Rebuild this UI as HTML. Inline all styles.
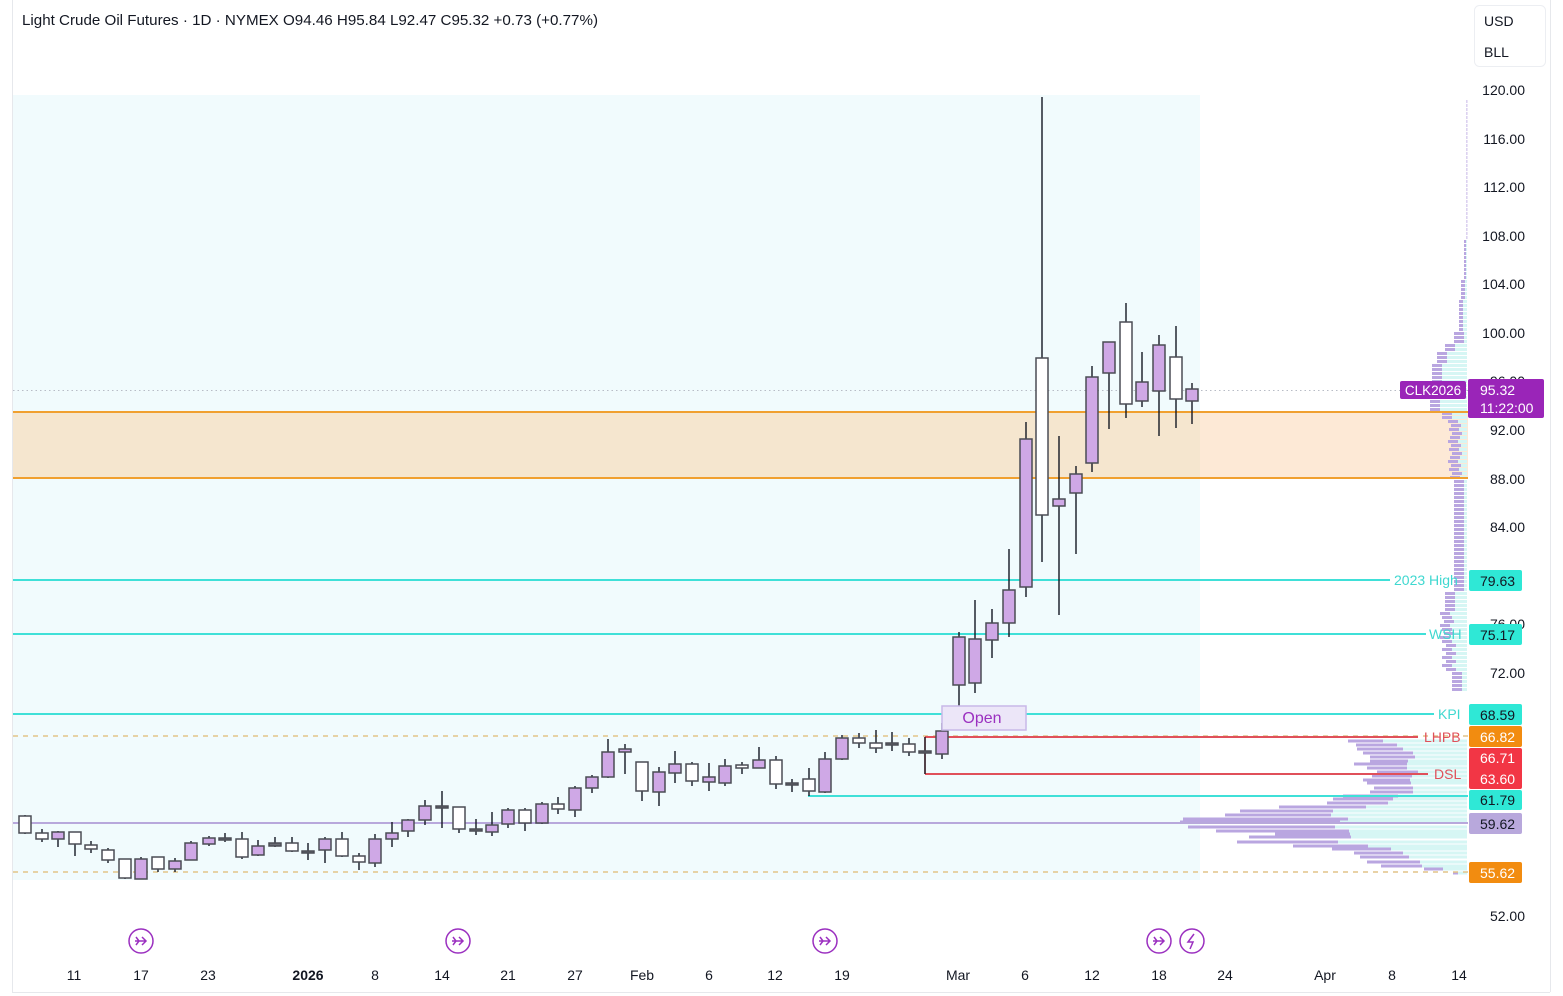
<!DOCTYPE html>
<html><head><meta charset="utf-8"><style>
html,body{margin:0;padding:0;background:#fff;width:1563px;height:996px;overflow:hidden}
svg{display:block;font-family:"Liberation Sans",sans-serif}
</style></head><body>
<svg id="s" width="1563" height="996" viewBox="0 0 1563 996" xmlns="http://www.w3.org/2000/svg">
<rect x="0" y="0" width="1563" height="996" fill="#fff"/>
<line x1="12.5" y1="0" x2="12.5" y2="992" stroke="#e6e8ec"/>
<line x1="12" y1="992.5" x2="1550" y2="992.5" stroke="#e6e8ec"/>
<line x1="1550.5" y1="0" x2="1550.5" y2="992" stroke="#e6e8ec"/>
<rect x="13" y="95" width="1187" height="785" fill="#f1fbfd"/>
<rect x="13" y="412" width="1187" height="66" fill="#f5e6cf"/>
<rect x="1200" y="412" width="268" height="66" fill="#fde9d6"/>
<g id="prof"></g>
<line x1="13" y1="390.5" x2="1468" y2="390.5" stroke="#b8bcc6" stroke-dasharray="1.5,3"/>
<line x1="13" y1="412" x2="1468" y2="412" stroke="#f0a030" stroke-width="2"/>
<line x1="13" y1="478" x2="1468" y2="478" stroke="#f0a030" stroke-width="2"/>
<line x1="13" y1="580" x2="1390" y2="580" stroke="#3fe0d8" stroke-width="2"/>
<line x1="13" y1="634" x2="1426" y2="634" stroke="#3fe0d8" stroke-width="2"/>
<line x1="13" y1="714" x2="1434" y2="714" stroke="#3fe0d8" stroke-width="2"/>
<line x1="808" y1="796" x2="1468" y2="796" stroke="#3fe0d8" stroke-width="2"/>
<line x1="13" y1="823" x2="1468" y2="823" stroke="#b8a8dc" stroke-width="2"/>
<line x1="13" y1="736" x2="1468" y2="736" stroke="#e2c488" stroke-width="1.5" stroke-dasharray="5,5"/>
<line x1="13" y1="872" x2="1468" y2="872" stroke="#e2c488" stroke-width="1.5" stroke-dasharray="5,5"/>
<line x1="925" y1="737" x2="1418" y2="737" stroke="#e0505a" stroke-width="2"/>
<line x1="925" y1="774" x2="1428" y2="774" stroke="#e0505a" stroke-width="2"/>
<line x1="925" y1="737" x2="925" y2="774" stroke="#e0505a" stroke-width="1.5"/>
<g font-size="14" fill="#3fd8d0">
<text x="1394" y="585">2023 High</text><text x="1429" y="639">WSH</text><text x="1438" y="719">KPI</text>
</g>
<g font-size="14" fill="#e0505a"><text x="1424" y="742">LHPB</text><text x="1434" y="779">DSL</text></g>
<g id="c"></g>
<rect x="942" y="706" width="84" height="24" fill="#ece6f8" stroke="#c8b8e8" stroke-width="1.5"/>
<text x="982" y="723" font-size="16" fill="#9b30c0" text-anchor="middle">Open</text>
<g font-size="14" fill="#131722" text-anchor="end">
<text x="1525" y="95">120.00</text><text x="1525" y="144">116.00</text><text x="1525" y="192">112.00</text>
<text x="1525" y="241">108.00</text><text x="1525" y="289">104.00</text><text x="1525" y="338">100.00</text>
<text x="1525" y="386">96.00</text><text x="1525" y="435">92.00</text><text x="1525" y="484">88.00</text>
<text x="1525" y="532">84.00</text><text x="1525" y="629">76.00</text><text x="1525" y="678">72.00</text>
<text x="1525" y="921">52.00</text>
</g>
<rect x="1400" y="381" width="66" height="18" rx="2" fill="#9a25b8"/>
<text x="1433" y="395" font-size="13.5" fill="#fff" text-anchor="middle">CLK2026</text>
<rect x="1468" y="379" width="76" height="39" rx="2" fill="#9a25b8"/>
<text x="1480" y="395" font-size="14" fill="#fff">95.32</text>
<text x="1480" y="413" font-size="14" fill="#fff">11:22:00</text>
<g font-size="14" text-anchor="start">
<rect x="1469" y="570" width="53" height="21" rx="2" fill="#2fe8d6"/><text x="1480" y="586" fill="#131722">79.63</text>
<rect x="1469" y="624" width="53" height="21" rx="2" fill="#2fe8d6"/><text x="1480" y="640" fill="#131722">75.17</text>
<rect x="1469" y="704" width="53" height="21" rx="2" fill="#2fe8d6"/><text x="1480" y="720" fill="#131722">68.59</text>
<rect x="1469" y="726" width="53" height="21" rx="2" fill="#f28c10"/><text x="1480" y="742" fill="#fff">66.82</text>
<rect x="1469" y="748" width="53" height="41" rx="2" fill="#f23645"/><text x="1480" y="763" fill="#fff">66.71</text><text x="1480" y="784" fill="#fff">63.60</text>
<rect x="1469" y="790" width="53" height="20" rx="2" fill="#2fe8d6"/><text x="1480" y="805" fill="#131722">61.79</text>
<rect x="1469" y="813" width="53" height="21" rx="2" fill="#b8a8dc"/><text x="1480" y="829" fill="#131722">59.62</text>
<rect x="1469" y="862" width="53" height="21" rx="2" fill="#f28c10"/><text x="1480" y="878" fill="#fff">55.62</text>
</g>
<rect x="1474.5" y="5.5" width="71" height="61" rx="5" fill="#fff" stroke="#eceef2"/>
<text x="1484" y="26" font-size="14" fill="#131722">USD</text>
<text x="1484" y="57" font-size="14" fill="#131722">BLL</text>
<text x="22" y="25" font-size="15" fill="#131722" textLength="576" lengthAdjust="spacingAndGlyphs">Light Crude Oil Futures · 1D · NYMEX  O94.46  H95.84  L92.47  C95.32  +0.73 (+0.77%)</text>
<g font-size="14" fill="#131722" text-anchor="middle">
<text x="74" y="980">11</text><text x="141" y="980">17</text><text x="208" y="980">23</text>
<text x="308" y="980" font-weight="bold">2026</text><text x="375" y="980">8</text><text x="442" y="980">14</text>
<text x="508" y="980">21</text><text x="575" y="980">27</text><text x="642" y="980">Feb</text>
<text x="709" y="980">6</text><text x="775" y="980">12</text><text x="842" y="980">19</text>
<text x="958" y="980">Mar</text><text x="1025" y="980">6</text><text x="1092" y="980">12</text>
<text x="1159" y="980">18</text><text x="1225" y="980">24</text><text x="1325" y="980">Apr</text>
<text x="1392" y="980">8</text><text x="1459" y="980">14</text>
</g>
<g id="ev" fill="#fff" stroke="#9b30c0" stroke-width="1.5"></g>
</svg>
<script>
var NS="http://www.w3.org/2000/svg";
function el(p,t,a){var e=document.createElementNS(NS,t);for(var k in a)e.setAttribute(k,a[k]);p.appendChild(e);return e;}
var C=[[25,816,833,815,834,0],[42,833,839,829,842,0],[58,832,839,831,847,1],[75,832,844,832,856,0],[91,845,849,841,853,0],[108,850,860,848,863,0],[125,859,878,859,879,0],[141,859,879,857,879,1],[158,857,869,857,872,0],[175,861,869,858,872,1],[191,843,860,841,860,1],[209,838,844,836,846,1],[225,838,839,833,842,2],[242,839,857,832,859,0],[258,846,855,840,856,1],[275,843,846,837,847,2],[292,843,851,837,852,0],[308,851,852,843,860,2],[325,839,850,837,863,1],[342,839,856,832,857,0],[359,856,862,853,870,0],[375,839,863,834,867,1],[392,833,839,822,847,1],[408,820,831,819,837,1],[425,806,820,800,825,1],[442,806,807,791,828,2],[459,807,829,807,833,0],[476,829,830,819,835,2],[492,825,832,812,836,1],[508,810,824,808,828,1],[525,810,823,808,831,0],[542,804,823,802,824,1],[558,804,809,797,814,0],[575,788,810,786,817,1],[592,777,788,775,793,1],[608,752,777,739,778,1],[625,749,752,744,774,1],[642,762,791,762,801,0],[659,772,792,767,806,1],[675,764,773,751,783,1],[692,764,781,762,786,0],[709,777,782,763,791,1],[725,766,783,759,786,1],[742,765,768,762,774,0],[759,760,768,747,768,1],[776,760,784,756,789,0],[792,783,785,779,792,2],[809,779,791,768,796,0],[825,759,792,752,793,1],[842,738,759,735,760,1],[859,738,743,733,748,0],[876,743,748,730,753,0],[892,743,745,732,751,2],[909,744,752,738,756,0],[925,751,753,737,774,2],[942,731,754,723,759,1],[959,637,685,632,707,1],[975,639,683,600,693,1],[992,623,640,609,658,1],[1009,590,623,549,637,1],[1026,439,587,422,597,1],[1042,358,515,97,562,0],[1059,499,506,436,615,1],[1076,474,493,466,554,1],[1092,377,463,366,472,1],[1109,342,373,342,429,1],[1126,322,404,303,418,0],[1142,382,401,352,407,1],[1159,345,391,335,436,1],[1176,357,399,326,428,0],[1192,389,401,383,424,1]];
var g=document.getElementById("c");
C.forEach(function(c){
 el(g,"line",{x1:c[0],x2:c[0],y1:c[3],y2:c[4],stroke:"#131722","stroke-width":1.4});
 var h=Math.max(c[2]-c[1],2);
 var f=c[5]==1?"#cfa8e6":(c[5]==2?"#6a6d75":"#fff");
 el(g,"rect",{x:c[0]-6,y:c[1],width:12,height:h,fill:f,stroke:"#4a4c55","stroke-width":1.5});
});
var P=document.getElementById("prof");
var L=[[741,1348,1383],[745,1356,1397],[749,1357,1403],[753,1363,1413],[757,1370,1415],[761,1370,1408],[764,1354,1407],[768,1367,1407],[772,1377,1418],[776,1372,1412],[780,1363,1410],[783,1367,1411],[788,1374,1413],[792,1370,1413],[796,1343,1398],[799,1333,1393],[803,1327,1388],[807,1279,1366],[811,1240,1333],[815,1225,1331],[819,1183,1348],[822,1180,1340],[827,1188,1335],[831,1216,1349],[834,1275,1350],[837,1249,1351],[842,1237,1338],[846,1293,1368],[849,1332,1391],[853,1354,1403],[857,1360,1409],[862,1367,1420],[866,1381,1422],[869,1424,1443],[873,1453,1458]];
L.forEach(function(r){
 el(P,"rect",{x:r[2],y:r[0]-1.5,width:1467-r[2],height:3,fill:"#d6f6f4"});
 el(P,"rect",{x:r[1],y:r[0]-1.5,width:r[2]-r[1],height:3,fill:"#b9a6e0"});
});
for(var y=100;y<692;y+=4){
 var l;
 if(y<240)l=1466.5;else if(y<280)l=1464;else if(y<300)l=1461;else if(y<330)l=1459;else if(y<342)l=1454;else if(y<352)l=1445;else if(y<362)l=1437;else if(y<382)l=1432;else if(y<398)l=1436;else if(y<410)l=1430;else if(y<420)l=1442;else if(y<480)l=1448+((y*7)%5);else if(y<590)l=1454+((y*3)%4);else if(y<610)l=1445;else if(y<640)l=1440+((y*5)%6);else if(y<670)l=1442+((y*7)%8);else l=1452;
 var e=Math.min(1466,l+ (y<240?0.5:(y<330?4:10)));
 if(y>=240)el(P,"rect",{x:e,y:y,width:1467-e,height:3,fill:"#d6f6f4"});
 el(P,"rect",{x:l,y:y,width:Math.max(e-l,0.8),height:3,fill:"#b9a6e0"});
}
var ev=document.getElementById("ev");
[141,458,825,1159].forEach(function(x){
 el(ev,"circle",{cx:x,cy:941,r:12});
 el(ev,"path",{d:"M"+(x-6)+" 941 L"+(x+5)+" 941 M"+(x+1)+" 937 L"+(x+5)+" 941 L"+(x+1)+" 945 M"+(x-5)+" 937 L"+(x-2)+" 941 L"+(x-5)+" 945",fill:"none"});
});
el(ev,"circle",{cx:1192,cy:941,r:12});
el(ev,"path",{d:"M1194 934 L1188 942 L1193 942 L1190 949",fill:"none"});
</script>
</body></html>
